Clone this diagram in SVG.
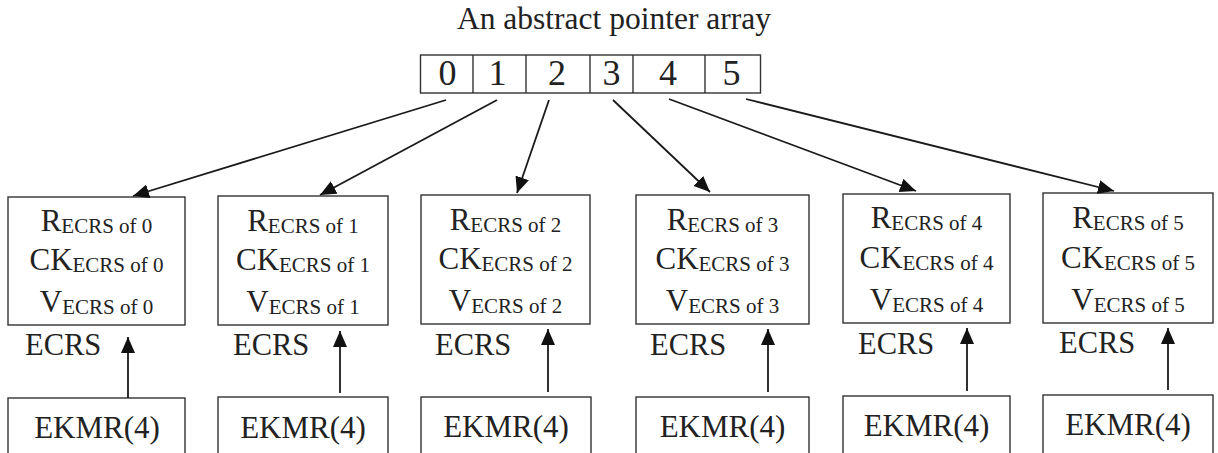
<svg xmlns="http://www.w3.org/2000/svg" width="1218" height="453" viewBox="0 0 1218 453">
<defs>
<style>
.t{font-size:31.5px}
.d{font-size:36px;text-anchor:middle}
.m{font-size:31px;text-anchor:middle}
.s{font-size:21px}
.e{font-size:30.5px}
.k{font-size:31px;text-anchor:middle}
.box{fill:#fff;stroke:#333;stroke-width:1.4}
.con line{stroke:#1a1a1a;stroke-width:1.8;marker-end:url(#ah)}
</style>
<marker id="ah" markerUnits="userSpaceOnUse" markerWidth="17" markerHeight="15" refX="16" refY="7" orient="auto">
<path d="M0,0 L16,7 L0,14 z" fill="#111"/>
</marker>
</defs>
<rect width="1218" height="453" fill="#fff"/>
<g font-family="'Liberation Serif', 'Times New Roman', serif" fill="#222">
<text class="t" x="457" y="29">An abstract pointer array</text>
<g id="array">
<rect class="box" x="420.5" y="55" width="340" height="38"/>
<g stroke="#333" stroke-width="1.4">
<line x1="473" y1="55" x2="473" y2="93"/>
<line x1="526" y1="55" x2="526" y2="93"/>
<line x1="590" y1="55" x2="590" y2="93"/>
<line x1="633" y1="55" x2="633" y2="93"/>
<line x1="705" y1="55" x2="705" y2="93"/>
</g>
<text class="d" x="447.5" y="85">0</text>
<text class="d" x="497.5" y="85">1</text>
<text class="d" x="557" y="85">2</text>
<text class="d" x="611.5" y="85">3</text>
<text class="d" x="668" y="85">4</text>
<text class="d" x="731.5" y="85">5</text>
</g>
<g id="ecrs0">
<rect class="box" x="8" y="197" width="177" height="128"/>
<text class="m" x="96.5" y="231">R<tspan class="s" dy="2">ECRS of 0</tspan></text>
<text class="m" x="96.5" y="270">CK<tspan class="s" dy="2">ECRS of 0</tspan></text>
<text class="m" x="96.5" y="312">V<tspan class="s" dy="2">ECRS of 0</tspan></text>
<text class="e" x="25" y="355">ECRS</text>
</g>
<g id="ecrs1">
<rect class="box" x="218" y="196" width="170" height="129"/>
<text class="m" x="303" y="231">R<tspan class="s" dy="2">ECRS of 1</tspan></text>
<text class="m" x="303" y="270">CK<tspan class="s" dy="2">ECRS of 1</tspan></text>
<text class="m" x="303" y="312">V<tspan class="s" dy="2">ECRS of 1</tspan></text>
<text class="e" x="233" y="355">ECRS</text>
</g>
<g id="ecrs2">
<rect class="box" x="421" y="195" width="169" height="129"/>
<text class="m" x="505.5" y="230">R<tspan class="s" dy="2">ECRS of 2</tspan></text>
<text class="m" x="505.5" y="269">CK<tspan class="s" dy="2">ECRS of 2</tspan></text>
<text class="m" x="505.5" y="311">V<tspan class="s" dy="2">ECRS of 2</tspan></text>
<text class="e" x="435" y="355">ECRS</text>
</g>
<g id="ecrs3">
<rect class="box" x="636" y="195" width="173" height="129"/>
<text class="m" x="722.5" y="230">R<tspan class="s" dy="2">ECRS of 3</tspan></text>
<text class="m" x="722.5" y="269">CK<tspan class="s" dy="2">ECRS of 3</tspan></text>
<text class="m" x="722.5" y="311">V<tspan class="s" dy="2">ECRS of 3</tspan></text>
<text class="e" x="650" y="355">ECRS</text>
</g>
<g id="ecrs4">
<rect class="box" x="843" y="194" width="167" height="129"/>
<text class="m" x="926.5" y="228">R<tspan class="s" dy="2">ECRS of 4</tspan></text>
<text class="m" x="926.5" y="268">CK<tspan class="s" dy="2">ECRS of 4</tspan></text>
<text class="m" x="926.5" y="310">V<tspan class="s" dy="2">ECRS of 4</tspan></text>
<text class="e" x="858" y="354">ECRS</text>
</g>
<g id="ecrs5">
<rect class="box" x="1043" y="193" width="170" height="130"/>
<text class="m" x="1128" y="228">R<tspan class="s" dy="2">ECRS of 5</tspan></text>
<text class="m" x="1128" y="268">CK<tspan class="s" dy="2">ECRS of 5</tspan></text>
<text class="m" x="1128" y="310">V<tspan class="s" dy="2">ECRS of 5</tspan></text>
<text class="e" x="1059" y="353">ECRS</text>
</g>
<g id="ekmr0"><rect class="box" x="8" y="398" width="177" height="70"/><text class="k" x="97" y="438">EKMR(4)</text></g>
<g id="ekmr1"><rect class="box" x="218" y="397" width="170" height="70"/><text class="k" x="303" y="438">EKMR(4)</text></g>
<g id="ekmr2"><rect class="box" x="421" y="397" width="170" height="70"/><text class="k" x="506" y="437">EKMR(4)</text></g>
<g id="ekmr3"><rect class="box" x="636" y="397" width="173" height="70"/><text class="k" x="722.5" y="437">EKMR(4)</text></g>
<g id="ekmr4"><rect class="box" x="843" y="396" width="167" height="70"/><text class="k" x="926.5" y="436">EKMR(4)</text></g>
<g id="ekmr5"><rect class="box" x="1043" y="395" width="170" height="70"/><text class="k" x="1128" y="435">EKMR(4)</text></g>
</g>
<g id="connectors" class="con">
<line x1="446" y1="100" x2="133" y2="196"/>
<line x1="497" y1="100" x2="320" y2="195"/>
<line x1="549" y1="100" x2="517" y2="193"/>
<line x1="613" y1="100" x2="710" y2="192"/>
<line x1="669" y1="99" x2="916" y2="191"/>
<line x1="746" y1="99" x2="1114" y2="191"/>
<line x1="128" y1="398" x2="128" y2="337"/>
<line x1="340" y1="393" x2="340" y2="331"/>
<line x1="548" y1="392" x2="548" y2="329"/>
<line x1="768" y1="392" x2="768" y2="329"/>
<line x1="967" y1="391" x2="967" y2="328"/>
<line x1="1168" y1="390" x2="1168" y2="328"/>
</g>
</svg>
